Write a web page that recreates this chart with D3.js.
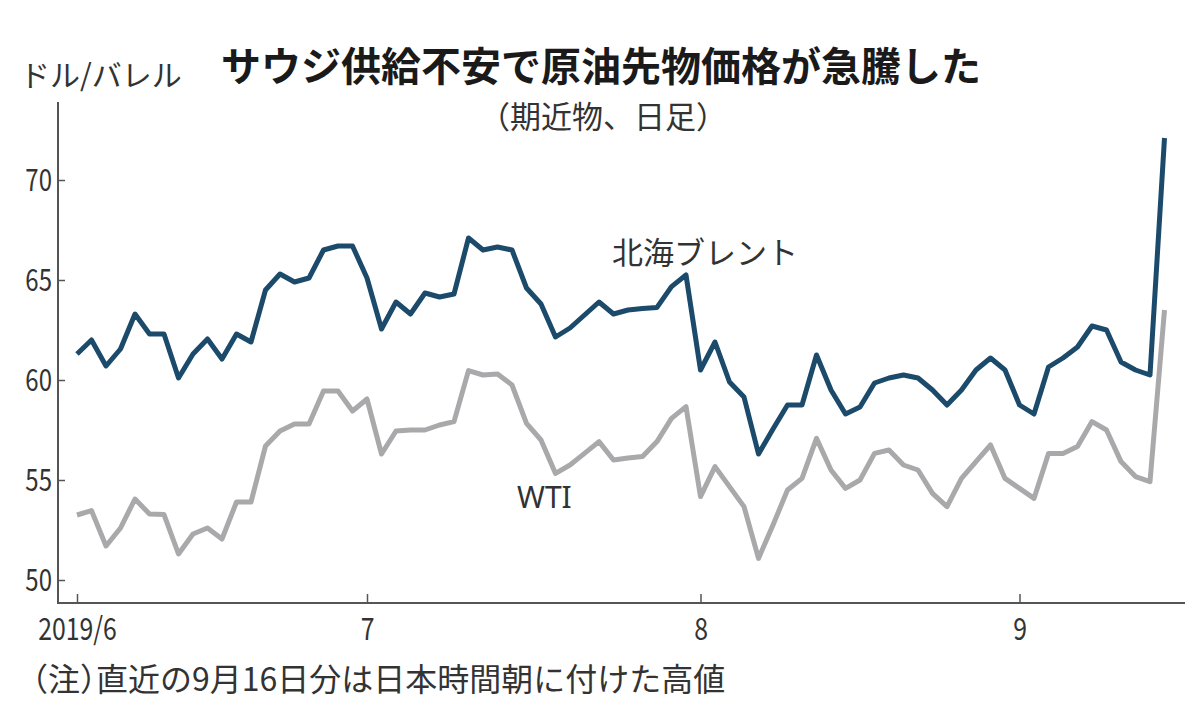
<!DOCTYPE html>
<html><head><meta charset="utf-8">
<script src="https://cdn.jsdelivr.net/npm/d3@7"></script>
<style>
html,body{margin:0;padding:0;background:#fff;}
svg{display:block;font-family:"Noto Sans CJK JP","Noto Sans",sans-serif;}
.halt{font-feature-settings:"halt" 1;}
</style></head>
<body>
<svg id="c" width="1204" height="712"></svg>
<script>
const title = "サウジ供給不安で原油先物価格が急騰した";
const subtitleParts = ["（", "期近物、日足", "）"];
const unitLabel = "ドル/バレル";
const note = "（注）直近の9月16日分は日本時間朝に付けた高値";
const seriesNames = ["北海ブレント", "WTI"];
const xTickIndex = [0, 20, 43, 65];
const xTickLabels = ["2019/6", "7", "8", "9"];
const yTicks = [50, 55, 60, 65, 70];

const brent = [61.3,62.0,60.7,61.55,63.3,62.3,62.3,60.1,61.3,62.05,61.05,62.3,61.9,64.5,65.3,64.9,65.1,66.5,66.7,66.7,
65.1,62.55,63.9,63.3,64.35,64.15,64.3,67.1,66.5,66.65,66.5,64.6,63.8,62.15,62.6,63.25,63.9,63.3,63.5,63.58,63.63,64.67,65.25,
60.5,61.9,59.9,59.15,56.3,57.55,58.75,58.75,61.25,59.5,58.3,58.65,59.85,60.1,60.25,60.1,59.5,58.75,59.5,60.5,61.1,60.5,
58.75,58.3,60.65,61.1,61.65,62.7,62.5,60.9,60.5,60.25,72.1];
const wti = [53.25,53.47,51.7,52.6,54.05,53.3,53.27,51.3,52.3,52.6,52.05,53.9,53.9,56.7,57.45,57.8,57.8,59.45,59.45,58.45,
59.05,56.3,57.45,57.5,57.5,57.75,57.92,60.47,60.25,60.3,59.75,57.83,57.0,55.33,55.75,56.33,56.92,56.0,56.1,56.17,56.92,58.08,58.67,
54.17,55.67,54.67,53.67,51.08,52.75,54.5,55.08,57.08,55.5,54.58,55.0,56.33,56.5,55.75,55.5,54.33,53.67,55.08,55.92,56.75,55.08,
54.58,54.08,56.33,56.33,56.67,57.92,57.5,55.92,55.17,54.92,63.5];

const svg = d3.select("#c");
const x = d3.scaleLinear().domain([0, brent.length - 1]).range([77, 1164.5]);
const y = d3.scaleLinear().domain([50, 70]).range([580, 180]);
const axisColor = "#555";

// y axis line
svg.append("line").attr("x1", 58).attr("x2", 58).attr("y1", 102).attr("y2", 603)
  .attr("stroke", axisColor).attr("stroke-width", 2);
// x axis line
svg.append("line").attr("x1", 57).attr("x2", 1185).attr("y1", 603).attr("y2", 603)
  .attr("stroke", axisColor).attr("stroke-width", 2);

// y ticks
const yAxis = svg.append("g").attr("transform", "translate(58,0)")
  .call(d3.axisRight(y).tickValues(yTicks).tickSize(7).tickFormat(d3.format("d")));
yAxis.select(".domain").remove();
yAxis.selectAll(".tick line").attr("stroke", axisColor).attr("stroke-width", 1.5);
yAxis.selectAll(".tick text").attr("x", 0).attr("dy", "0.36em")
  .attr("text-anchor", "end").attr("transform", "translate(-6,0) scale(0.8,1)")
  .attr("font-size", 30).attr("fill", "#333").style("font-family", '"Noto Sans CJK JP",sans-serif');

// x ticks
const xAxis = svg.append("g").attr("transform", "translate(0,603)")
  .call(d3.axisTop(x).tickValues(xTickIndex).tickSize(9).tickFormat((d, i) => xTickLabels[i]));
xAxis.select(".domain").remove();
xAxis.selectAll(".tick line").attr("stroke", axisColor).attr("stroke-width", 1.5);
xAxis.selectAll(".tick text").attr("y", 0).attr("dy", 0)
  .attr("transform", "translate(0,37) scale(0.8,1)")
  .attr("font-size", 31).attr("fill", "#333").style("font-family", '"Noto Sans CJK JP",sans-serif');

// lines
const line = d3.line().x((d, i) => x(i)).y(d => y(d));
svg.append("path").datum(wti).attr("d", line).attr("fill", "none")
  .attr("stroke", "#a9a9ab").attr("stroke-width", 5).attr("stroke-linejoin", "round");
svg.append("path").datum(brent).attr("d", line).attr("fill", "none")
  .attr("stroke", "#1b4a6b").attr("stroke-width", 5).attr("stroke-linejoin", "round");

// series labels
svg.append("text").attr("x", 612).attr("y", 264).attr("font-size", 31).attr("fill", "#333").text(seriesNames[0]);
svg.append("text").attr("x", 517).attr("y", 508).attr("font-size", 30).attr("fill", "#333")
  .style("font-family", '"Noto Sans",sans-serif').text(seriesNames[1]);

// title etc.
svg.append("text").attr("x", 601).attr("y", 81).attr("text-anchor", "middle")
  .attr("font-size", 40).attr("font-weight", "bold").attr("fill", "#1a1a1a").text(title);
const sub = svg.append("text").attr("x", 603).attr("y", 128).attr("text-anchor", "middle")
  .attr("font-size", 31).attr("fill", "#333");
sub.selectAll("tspan").data(subtitleParts).join("tspan")
  .attr("class", (d, i) => i === 1 ? null : "halt").text(d => d);
svg.append("text").attr("x", 20).attr("y", 86).attr("font-size", 30).attr("fill", "#333").text(unitLabel);
svg.append("text").attr("x", 32).attr("y", 691).attr("font-size", 32).attr("fill", "#333")
  .attr("class", "halt").text(note);
</script>
</body></html>
